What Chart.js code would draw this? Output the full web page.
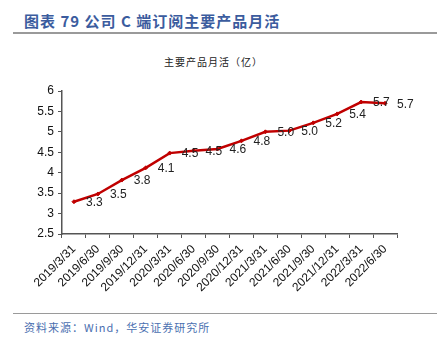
<!DOCTYPE html>
<html>
<head>
<meta charset="utf-8">
<script src="https://cdn.jsdelivr.net/npm/chart.js@4/dist/chart.umd.min.js"></script>
<style>
  body { margin: 0; background: #fff; }
  #wrap { position: relative; width: 437px; height: 339px; overflow: hidden; }
  #head { position: absolute; left: 24px; top: 10px; font: bold 15px "Noto Sans CJK SC", sans-serif; color: #3B5C9E; letter-spacing: 1px; }
  #rule1 { position: absolute; left: 13px; right: 0; top: 32px; height: 2px; background: #9a9a9a; }
  #sub { position: absolute; left: 0; width: 427px; top: 54px; text-align: center; font: 10px "Noto Sans CJK SC", serif; color: #222; letter-spacing: 1px; }
  #rule2 { position: absolute; left: 13px; right: 0; top: 313px; height: 1px; background: #9a9a9a; }
  #src { position: absolute; left: 24px; top: 319px; font: 11px "Noto Sans CJK SC", serif; color: #4A6FB0; letter-spacing: 1px; }
  #box { position: absolute; left: 0; top: 40px; width: 437px; height: 270px; }
</style>
</head>
<body>
<div id="wrap">
  <div id="head">图表 79 公司 C 端订阅主要产品月活</div>
  <div id="rule1"></div>
  <div id="sub">主要产品月活（亿）</div>
  <div id="box"><canvas id="chart"></canvas></div>
  <div id="rule2"></div>
  <div id="src">资料来源：Wind，华安证券研究所</div>
</div>
<script>
const labels = ['2019/3/31', '2019/6/30', '2019/9/30', '2019/12/31', '2020/3/31', '2020/6/30', '2020/9/30',
  '2020/12/31', '2021/3/31', '2021/6/30', '2021/9/30', '2021/12/31', '2022/3/31', '2022/6/30'];
const mau = [3.29, 3.48, 3.82, 4.12, 4.48, 4.54, 4.58, 4.78, 5.00, 5.03, 5.22, 5.44, 5.73, 5.70];
const yTicks = [2.5, 3, 3.5, 4, 4.5, 5, 5.5, 6];

// labels to the right of each point
const pointLabels = {
  id: 'pointLabels',
  afterDatasetsDraw(chart) {
    const ctx = chart.ctx;
    const meta = chart.getDatasetMeta(0);
    ctx.save();
    ctx.font = '12px "Liberation Sans", Arial, sans-serif';
    ctx.fillStyle = '#222';
    ctx.textAlign = 'left';
    ctx.textBaseline = 'middle';
    meta.data.forEach((pt, i) => {
      ctx.fillText(mau[i].toFixed(1), pt.x + 12, pt.y + 1);
    });
    ctx.restore();
  },
};

const data = {
  labels,
  datasets: [{
    label: '主要产品月活',
    data: mau,
    borderColor: '#C00000',
    backgroundColor: '#C00000',
    borderWidth: 2.5,
    pointStyle: 'rectRot',
    pointRadius: 2,
    pointHoverRadius: 2,
    pointBorderWidth: 1,
    tension: 0,
  }],
};

const config = {
  type: 'line',
  data,
  plugins: [pointLabels],
  options: {
    responsive: true,
    maintainAspectRatio: false,
    animation: false,
    layout: { padding: { top: 51, right: 40, left: 0, bottom: 0 } },
    plugins: { legend: { display: false }, tooltip: { enabled: false }, title: { display: false } },
    scales: {
      x: {
        offset: true,
        grid: { offset: true, drawOnChartArea: false, drawTicks: true, tickLength: 4, color: '#555' },
        border: { color: '#555', width: 1.5 },
        ticks: {
          minRotation: 45, maxRotation: 45, autoSkip: false, padding: 4,
          color: '#111', font: { family: '"Liberation Sans", Arial, sans-serif', size: 12 },
        },
        afterFit(scale) { scale.height = 76; },
      },
      y: {
        min: 2.5,
        max: 6,
        afterBuildTicks(scale) { scale.ticks = yTicks.map((v) => ({ value: v })); },
        grid: { drawOnChartArea: false, drawTicks: true, tickLength: 4, color: '#555' },
        border: { color: '#555', width: 1.5 },
        ticks: {
          padding: 4, color: '#111',
          font: { family: '"Liberation Sans", Arial, sans-serif', size: 12 },
          callback: (v) => String(v),
        },
        afterFit(scale) { scale.width = 62; },
      },
    },
  },
};

new Chart(document.querySelector('#chart'), config);
</script>
</body>
</html>
